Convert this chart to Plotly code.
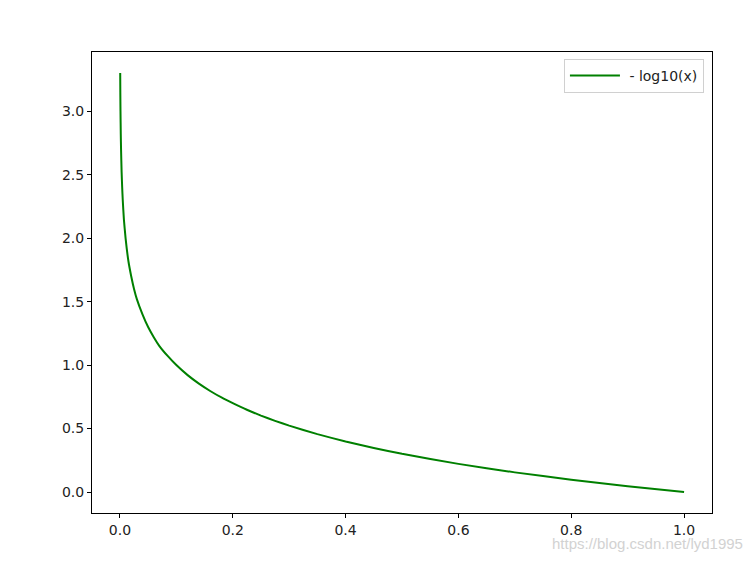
import plotly.graph_objects as go

# values
X_VALUES = [0.0005, 0.0007, 0.001, 0.0015, 0.002, 0.003, 0.004, 0.005, 0.007,
            0.01, 0.015, 0.02, 0.025, 0.03, 0.04, 0.05, 0.06, 0.07, 0.085, 0.1,
            0.12, 0.14, 0.16, 0.18, 0.2, 0.225, 0.25, 0.275, 0.3, 0.35, 0.4,
            0.45, 0.5, 0.6, 0.7, 0.8, 0.9, 1.0]
Y_VALUES = [3.30, 3.15, 3.00, 2.82, 2.70, 2.52, 2.40, 2.30, 2.15,
            2.00, 1.82, 1.70, 1.60, 1.52, 1.40, 1.30, 1.22, 1.15, 1.07, 1.00,
            0.921, 0.854, 0.796, 0.745, 0.70, 0.648, 0.602, 0.561, 0.523, 0.456, 0.398,
            0.347, 0.301, 0.222, 0.155, 0.097, 0.046, 0.0]
SERIES_NAME = " - log10(x)"
X_TICKS = [0.0, 0.2, 0.4, 0.6, 0.8, 1.0]
Y_TICKS = [0.0, 0.5, 1.0, 1.5, 2.0, 2.5, 3.0]
WATERMARK = "https://blog.csdn.net/lyd1995"

FONT = "DejaVu Sans"

fig = go.Figure()
fig.add_trace(
    go.Scatter(
        x=X_VALUES,
        y=Y_VALUES,
        mode="lines",
        name=SERIES_NAME,
        line={"color": "#008000", "width": 2, "shape": "spline", "smoothing": 0.4},
    )
)

axis_style = dict(
    showgrid=False,
    zeroline=False,
    showline=True,
    linecolor="black",
    linewidth=1,
    mirror=True,
    ticks="outside",
    ticklen=4,
    tickwidth=1,
    tickcolor="black",
    tickfont={"family": FONT, "size": 14, "color": "#222222"},
)

fig.update_xaxes(range=[-0.0495, 1.0495], tickvals=X_TICKS, tickformat=".1f", **axis_style)
fig.update_yaxes(range=[-0.165, 3.466], tickvals=Y_TICKS, tickformat=".1f", **axis_style)

# the page adds an 8px body margin, so the figure is a little smaller than the window
fig.update_layout(
    width=748,
    height=553,
    paper_bgcolor="white",
    plot_bgcolor="white",
    margin={"l": 84, "r": 44, "t": 44, "b": 48},
    showlegend=True,
    legend={
        "x": 0.987,
        "y": 0.985,
        "xanchor": "right",
        "yanchor": "top",
        "bgcolor": "white",
        "bordercolor": "#d0d0d0",
        "borderwidth": 1,
        "itemwidth": 50,
        "font": {"family": FONT, "size": 14, "color": "#222222"},
    },
    annotations=[
        dict(
            text=WATERMARK,
            xref="paper",
            yref="paper",
            x=1.053,
            y=-0.043,
            xanchor="right",
            yanchor="top",
            showarrow=False,
            font={"family": "Liberation Sans", "size": 15, "color": "#d2d2d2"},
        )
    ],
)

fig.write_html("out.html")
